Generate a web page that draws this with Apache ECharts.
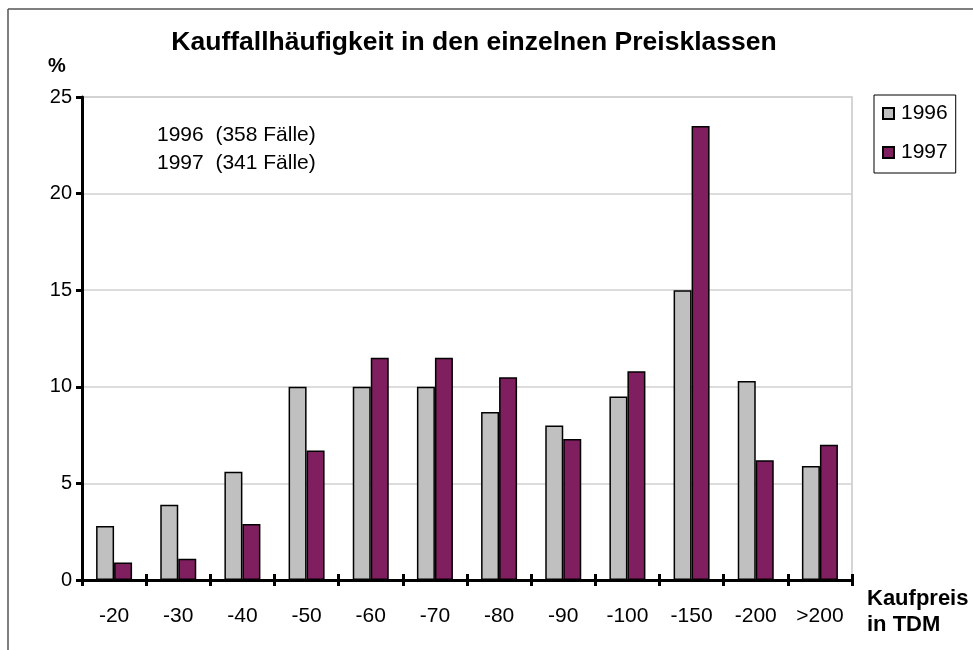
<!DOCTYPE html>
<html>
<head>
<meta charset="utf-8">
<script src="https://cdn.jsdelivr.net/npm/echarts@6/dist/echarts.min.js"></script>
<style>
  body { margin: 0; background: #fff; }
  #chart { width: 973px; height: 650px; }
</style>
</head>
<body>
<div id="chart"></div>
<script>
// Preisklassen (Kaufpreis in TDM)
var categories = ['-20', '-30', '-40', '-50', '-60', '-70', '-80', '-90', '-100', '-150', '-200', '>200']
// Kauffallhäufigkeit in %
var values1996 = [2.8, 3.9, 5.6, 10.0, 10.0, 10.0, 8.7, 8.0, 9.5, 15.0, 10.3, 5.9]
var values1997 = [0.9, 1.1, 2.9, 6.7, 11.5, 11.5, 10.5, 7.3, 10.8, 23.5, 6.2, 7.0]
var seriesNames = ['1996', '1997']
var notes = ['1996  (358 Fälle)', '1997  (341 Fälle)']

var font = 'Arial, "Liberation Sans", sans-serif'
var chart = echarts.init(document.getElementById('chart'))

var option = {
  backgroundColor: '#fff',
  animation: false,
  textStyle: { fontFamily: font },
  grid: {
    left: 82, right: 121, top: 97, bottom: 70,
    show: true,
    borderColor: '#c8c8c8',
    borderWidth: 1.5
  },
  legend: {
    data: seriesNames,
    orient: 'vertical',
    left: 874,
    top: 95,
    icon: 'rect',
    itemWidth: 11,
    itemHeight: 11,
    itemGap: 18,
    padding: [8, 8, 10, 8],
    borderColor: '#000',
    borderWidth: 1,
    textStyle: { fontSize: 21, color: '#000', fontFamily: font, padding: [0, 0, 0, 2] }
  },
  xAxis: [
    {
      type: 'category',
      data: categories,
      axisLine: { lineStyle: { color: '#000', width: 3 } },
      axisTick: { show: true, length: 6, lineStyle: { color: '#000', width: 3 } },
      axisLabel: { color: '#000', fontSize: 21, margin: 26, fontFamily: font },
      splitLine: { show: false }
    },
    {
      // inner half of the crossing ticks
      type: 'category',
      data: categories,
      position: 'bottom',
      axisLine: { show: false },
      axisTick: { show: true, inside: true, length: 6, lineStyle: { color: '#000', width: 3 } },
      axisLabel: { show: false },
      splitLine: { show: false }
    }
  ],
  yAxis: {
    type: 'value',
    min: 0,
    max: 25,
    interval: 5,
    axisLine: { show: true, lineStyle: { color: '#000', width: 3 } },
    axisTick: { show: true, length: 6, lineStyle: { color: '#000', width: 3 } },
    axisLabel: { color: '#000', fontSize: 20, margin: 10, fontFamily: font },
    splitLine: { lineStyle: { color: '#d0d0d0', width: 1.5 } }
  },
  series: [
    {
      name: seriesNames[0],
      type: 'bar',
      data: values1996,
      barWidth: 18,
      barGap: '0%',
      itemStyle: { color: '#c0c0c0', borderColor: '#000', borderWidth: 1.5 }
    },
    {
      name: seriesNames[1],
      type: 'bar',
      data: values1997,
      barWidth: 18,
      itemStyle: { color: '#801f60', borderColor: '#000', borderWidth: 1.5 }
    }
  ],
  graphic: [
    // outer frame (left and top only)
    { type: 'line', shape: { x1: 8, y1: 9, x2: 973, y2: 9 }, style: { stroke: '#555', lineWidth: 1.5 } },
    { type: 'line', shape: { x1: 8, y1: 9, x2: 8, y2: 650 }, style: { stroke: '#555', lineWidth: 1.5 } },
    {
      type: 'text', x: 474, y: 43,
      style: { text: 'Kauffallhäufigkeit in den einzelnen Preisklassen', font: 'bold 26.5px ' + font, fill: '#000', textAlign: 'center', textVerticalAlign: 'middle' }
    },
    {
      type: 'text', x: 57, y: 66,
      style: { text: '%', font: 'bold 20px ' + font, fill: '#000', textAlign: 'center', textVerticalAlign: 'middle' }
    },
    {
      type: 'text', x: 157, y: 135,
      style: { text: notes[0], font: '21px ' + font, fill: '#000', textVerticalAlign: 'middle' }
    },
    {
      type: 'text', x: 157, y: 163,
      style: { text: notes[1], font: '21px ' + font, fill: '#000', textVerticalAlign: 'middle' }
    },
    {
      type: 'text', x: 867, y: 599,
      style: { text: 'Kaufpreis', font: 'bold 22px ' + font, fill: '#000', textVerticalAlign: 'middle' }
    },
    {
      type: 'text', x: 867, y: 625,
      style: { text: 'in TDM', font: 'bold 22px ' + font, fill: '#000', textVerticalAlign: 'middle' }
    }
  ]
}
chart.setOption(option)
</script>
</body>
</html>
